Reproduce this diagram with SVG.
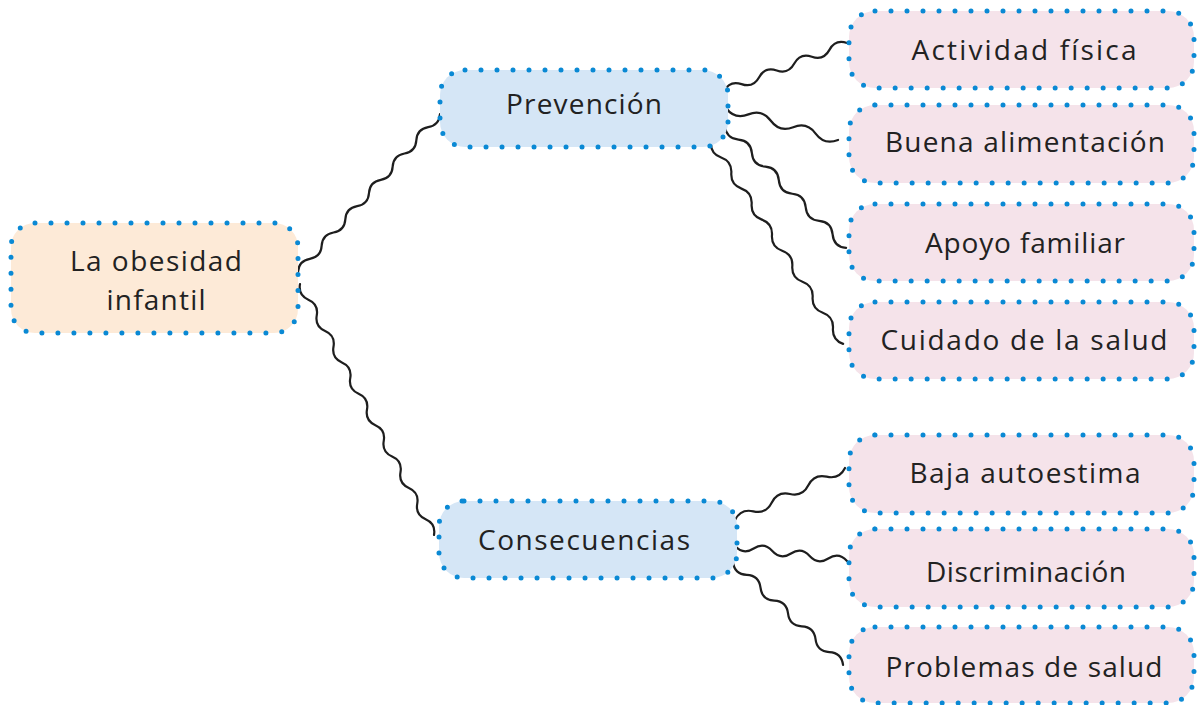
<svg xmlns="http://www.w3.org/2000/svg" width="1198" height="705" viewBox="0 0 1198 705">
<style>
.box{stroke:#0a89d4;stroke-width:5;stroke-linecap:round;stroke-dasharray:0 16}
.root{fill:#fdead7}
.mid{fill:#d5e6f6}
.leaf{fill:#f5e3ea}
.t{font-family:"Open Sans","Liberation Sans",sans-serif;font-size:28px;fill:#222;text-anchor:middle}
.w{fill:none;stroke:#1e1e1e;stroke-width:2.2;stroke-linecap:round}
</style>
<rect width="1198" height="705" fill="#ffffff"/>
<g id="connectors">
<path class="w" transform="translate(298,272) rotate(-48.05)" d="M0 0 q8.85 -7 17.7 0 t17.7 0 t17.7 0 t17.7 0 t17.7 0 t17.7 0 t17.7 0 t17.7 0 t17.7 0 t17.7 0 t17.7 0 t17.7 0"/>
<path class="w" transform="translate(300,284) rotate(61.9)" d="M0 0 q8.9 7 17.78 0 t17.78 0 t17.78 0 t17.78 0 t17.78 0 t17.78 0 t17.78 0 t17.78 0 t17.78 0 t17.78 0 t17.78 0 t17.78 0 t17.78 0 t17.78 0 t17.78 0 t17.78 0"/>
<path class="w" transform="translate(724,91) rotate(-21.3)" d="M0 0 q9.43 -8 18.86 0 t18.86 0 t18.86 0 t18.86 0 t18.86 0 t18.86 0 t18.86 0"/>
<path class="w" transform="translate(726,108) rotate(15.9)" d="M0 0 q11.65 9 23.3 0 t23.3 0 t23.3 0 t23.3 0 t23.3 0"/>
<path class="w" transform="translate(725,126) rotate(45.2)" d="M0 0 q9.54 8 19.09 0 t19.09 0 t19.09 0 t19.09 0 t19.09 0 t19.09 0 t19.09 0 t19.09 0 t19.09 0"/>
<path class="w" transform="translate(711,142) rotate(56.8)" d="M0 0 q9.28 7 18.56 0 t18.56 0 t18.56 0 t18.56 0 t18.56 0 t18.56 0 t18.56 0 t18.56 0 t18.56 0 t18.56 0 t18.56 0 t18.56 0 t18.56 0"/>
<path class="w" transform="translate(735,520) rotate(-25.3)" d="M0 0 q10.14 -8 20.28 0 t20.28 0 t20.28 0 t20.28 0 t20.28 0 t20.28 0"/>
<path class="w" transform="translate(735,546) rotate(7.6)" d="M0 0 q9.42 8 18.83 0 t18.83 0 t18.83 0 t18.83 0 t18.83 0 t18.83 0"/>
<path class="w" transform="translate(733,562) rotate(43.1)" d="M0 0 q9.42 8 18.84 0 t18.84 0 t18.84 0 t18.84 0 t18.84 0 t18.84 0 t18.84 0 t18.84 0"/>
</g>
<g id="root">
<rect class="box root" x="11" y="223" width="287" height="110" rx="24"/>
<text class="t" x="156" y="271" textLength="172" lengthAdjust="spacing">La obesidad</text>
<text class="t" x="156" y="310" textLength="99" lengthAdjust="spacing">infantil</text>
</g>
<g id="prevencion">
<rect class="box mid" x="440" y="70" width="288" height="77" rx="25"/>
<text class="t" x="584" y="114" textLength="156" lengthAdjust="spacing">Prevención</text>
</g>
<g id="consecuencias">
<rect class="box mid" x="439" y="501" width="298" height="77" rx="25"/>
<text class="t" x="584" y="550" textLength="212" lengthAdjust="spacing">Consecuencias</text>
</g>
<g id="actividad">
<rect class="box leaf" x="849" y="11" width="345" height="77" rx="26"/>
<text class="t" x="1024" y="60" textLength="225" lengthAdjust="spacing">Actividad física</text>
</g>
<g id="buena">
<rect class="box leaf" x="849" y="105" width="345" height="78" rx="26"/>
<text class="t" x="1025" y="152" textLength="280" lengthAdjust="spacing">Buena alimentación</text>
</g>
<g id="apoyo">
<rect class="box leaf" x="849" y="204" width="345" height="77" rx="26"/>
<text class="t" x="1025" y="253" textLength="200" lengthAdjust="spacing">Apoyo familiar</text>
</g>
<g id="cuidado">
<rect class="box leaf" x="849" y="302" width="345" height="77" rx="26"/>
<text class="t" x="1024" y="350" textLength="287" lengthAdjust="spacing">Cuidado de la salud</text>
</g>
<g id="baja">
<rect class="box leaf" x="849" y="435" width="345" height="78" rx="26"/>
<text class="t" x="1025" y="483" textLength="231" lengthAdjust="spacing">Baja autoestima</text>
</g>
<g id="discriminacion">
<rect class="box leaf" x="849" y="529" width="345" height="78" rx="26"/>
<text class="t" x="1026" y="582" textLength="200" lengthAdjust="spacing">Discriminación</text>
</g>
<g id="problemas">
<rect class="box leaf" x="849" y="627" width="345" height="76" rx="26"/>
<text class="t" x="1024" y="677" textLength="277" lengthAdjust="spacing">Problemas de salud</text>
</g>
</svg>
